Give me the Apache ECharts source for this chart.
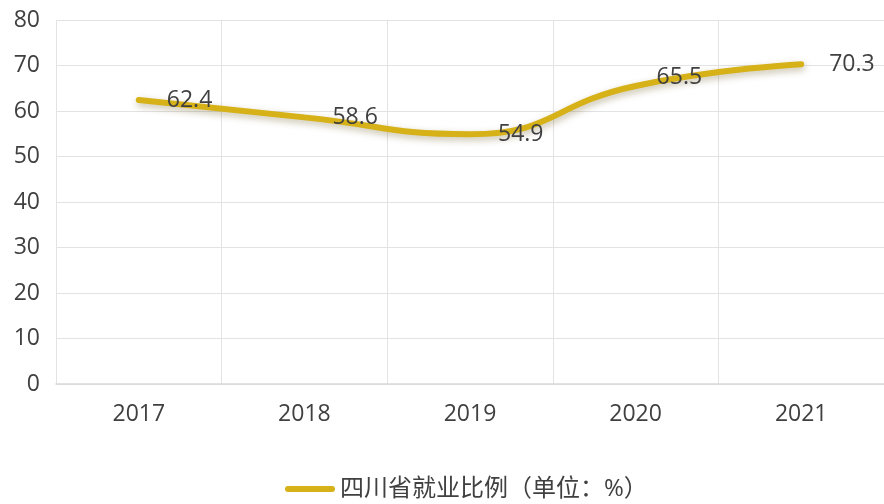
<!DOCTYPE html>
<html><head><meta charset="utf-8">
<script src="https://cdn.jsdelivr.net/npm/echarts@6/dist/echarts.min.js"></script>
<style>html,body{margin:0;padding:0;background:#fff}#c{width:884px;height:504px}</style>
</head><body><div id="c"></div>
<script>
const categories = ['2017','2018','2019','2020','2021'];
const values = [62.4, 58.6, 54.9, 65.5, 70.3];
const seriesName = '四川省就业比例（单位：%）';
const yTicks = [0,10,20,30,40,50,60,70,80];

const labelCfg = [
  {distance: 27, offset: [0, 0]},
  {distance: 27, offset: [0, 0]},
  {distance: 27, offset: [0, 0]},
  {distance: 20, offset: [0, -9]},
  {distance: 27, offset: [0, 0]}
];
const font = '"Open Sans","Noto Sans CJK SC",sans-serif';
const chart = echarts.init(document.getElementById('c'));
chart.setOption({
  animation: false,
  grid: {left: 56, width: 829, top: 20, bottom: 120},
  legend: {
    data: [seriesName], top: 472, left: 280,
    icon: 'path://M3,0 L47,0 A3,3 0 0 1 47,6 L3,6 A3,3 0 0 1 3,0 Z',
    itemWidth: 50, itemHeight: 6, itemGap: 8,
    textStyle: {fontSize: 24, color: '#404040', fontFamily: font}
  },
  xAxis: {
    type: 'category', data: categories, boundaryGap: true,
    axisLine: {lineStyle: {color: '#d9d9d9', width: 1.5}},
    axisTick: {show: false},
    splitLine: {show: true, lineStyle: {color: '#e3e3e3', width: 1}},
    axisLabel: {fontSize: 23, color: '#404040', margin: 19, fontFamily: font}
  },
  yAxis: {
    type: 'value', min: yTicks[0], max: yTicks[yTicks.length-1], interval: 10,
    axisLine: {show: false}, axisTick: {show: false},
    splitLine: {lineStyle: {color: '#e3e3e3', width: 1}},
    axisLabel: {fontSize: 23, color: '#404040', margin: 16, fontFamily: font}
  },
  series: [{
    name: seriesName, type: 'line', smooth: 0.5,
    symbol: 'circle', symbolSize: 2, showSymbol: true,
    lineStyle: {color: '#D6B118', width: 6, cap: 'round',
      shadowColor: 'rgba(90,70,0,0.35)', shadowBlur: 7, shadowOffsetY: 3, shadowOffsetX: 1},
    itemStyle: {color: '#D6B118'},
    data: values.map((v, i) => ({
      value: v,
      label: {show: true, position: 'right', distance: labelCfg[i].distance, offset: labelCfg[i].offset,
        fontSize: 23, color: '#404040', fontFamily: font}
    }))
  }]
});
</script></body></html>
